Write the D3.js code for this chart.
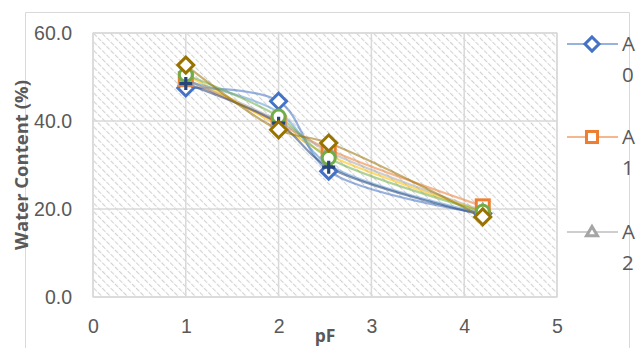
<!DOCTYPE html>
<html>
<head>
<meta charset="utf-8">
<script src="https://cdn.jsdelivr.net/npm/d3@7"></script>
<style>
  html, body { margin: 0; padding: 0; background: #fff; }
  svg { display: block; font-family: "Open Sans", "Liberation Sans", sans-serif; }
</style>
</head>
<body>
<svg id="chart" width="636" height="348"></svg>
<script>
// pF points at which water content was measured
const pF = [1, 2, 2.54, 4.2];

// Series names (legend) and water content values (%)
const seriesNames = ["A\n0", "A\n1", "A\n2", "A\n3", "A\n4", "A\n5", "A\n6", "A\n7"];
const s0 = [47.5, 44.5, 28.6, 19.0];
const s1 = [49.5, 39.5, 33.5, 20.6];
const s2 = [49.3, 40.0, 33.0, 19.6];
const s3 = [50.5, 39.0, 32.2, 19.4];
const s4 = [49.0, 42.0, 30.0, 19.0];
const s5 = [50.5, 41.0, 31.6, 19.4];
const s6 = [48.5, 39.5, 29.5, 18.6];
const s7 = [52.7, 38.0, 35.0, 18.2];
const seriesValues = [s0, s1, s2, s3, s4, s5, s6, s7];
const seriesColors = ["#4472C4", "#ED7D31", "#A5A5A5", "#FFC000", "#5B9BD5", "#70AD47", "#264478", "#997300"];
const seriesMarkers = ["diamond", "square", "triangle", "none", "none", "circle", "plus", "diamond"];

const xTicks = [0, 1, 2, 3, 4, 5];
const yTicks = [0, 20, 40, 60];

const svg = d3.select("#chart");
const W = 636, H = 348;
const plot = { left: 93, right: 557, top: 33, bottom: 297 };
const textGrey = "#595959";
const gridGrey = "#d9d9d9";

// chart frame
svg.append("path")
  .attr("d", `M25.5,${H} V12.5 H629.5 V${H}`)
  .attr("fill", "none").attr("stroke", gridGrey).attr("stroke-width", 1);

const x = d3.scaleLinear().domain([0, 5]).range([plot.left, plot.right]);
const y = d3.scaleLinear().domain([0, 60]).range([plot.bottom, plot.top]);

// diagonal hatch fill of the plot area
const defs = svg.append("defs");
const pat = defs.append("pattern")
  .attr("id", "hatch").attr("patternUnits", "userSpaceOnUse")
  .attr("width", 6).attr("height", 6)
  .attr("patternTransform", "rotate(-45)");
pat.append("rect").attr("width", 6).attr("height", 6).attr("fill", "#fff");
pat.append("line").attr("x1", 0).attr("y1", 0).attr("x2", 0).attr("y2", 6)
  .attr("stroke", "#d2d2d2").attr("stroke-width", 2.2)
  .attr("stroke-dasharray", "4.5 1.5");

svg.append("rect")
  .attr("x", plot.left).attr("y", plot.top)
  .attr("width", plot.right - plot.left).attr("height", plot.bottom - plot.top)
  .attr("fill", "url(#hatch)").attr("stroke", gridGrey).attr("stroke-width", 1.2);

// gridlines
const grid = svg.append("g");
grid.selectAll(".gx").data(xTicks).join("line")
  .attr("x1", d => x(d)).attr("x2", d => x(d))
  .attr("y1", plot.top).attr("y2", plot.bottom)
  .attr("stroke", gridGrey).attr("stroke-width", 1.5);
grid.selectAll(".gy").data(yTicks).join("line")
  .attr("x1", plot.left).attr("x2", plot.right)
  .attr("y1", d => y(d)).attr("y2", d => y(d))
  .attr("stroke", gridGrey).attr("stroke-width", 1.5);

// axes
const yAxis = svg.append("g")
  .attr("transform", `translate(${plot.left - 21},0)`)
  .call(d3.axisLeft(y).tickValues(yTicks).tickFormat(d3.format(".1f")).tickSize(0).tickPadding(0));
yAxis.select(".domain").remove();
yAxis.selectAll("text").attr("fill", textGrey).style("font-size", "19.5px").attr("dy", "0.35em");

const xAxis = svg.append("g")
  .attr("transform", `translate(0,${plot.bottom + 22})`)
  .call(d3.axisBottom(x).tickValues(xTicks).tickFormat(d3.format("d")).tickSize(0).tickPadding(0));
xAxis.select(".domain").remove();
xAxis.selectAll("text").attr("fill", textGrey).style("font-size", "19.5px").attr("dy", "0.71em");

// axis titles
svg.append("text")
  .attr("transform", `translate(28,${(plot.top + plot.bottom) / 2}) rotate(-90)`)
  .attr("text-anchor", "middle").attr("fill", textGrey)
  .style("font-size", "18.5px").style("font-weight", "bold")
  .text("Water Content (%)");
svg.append("text")
  .attr("x", (plot.left + plot.right) / 2).attr("y", 342)
  .attr("text-anchor", "middle").attr("fill", textGrey)
  .style("font-size", "17.5px").style("font-weight", "bold")
  .text("pF");

// marker drawing helper
function drawMarker(g, type, color, cx, cy, scale = 1) {
  const s = 6.5 * scale;
  if (type === "diamond") {
    g.append("path").attr("d", `M${cx},${cy - s - 1.5} L${cx + s + 1.5},${cy} L${cx},${cy + s + 1.5} L${cx - s - 1.5},${cy} Z`)
      .attr("fill", "#fff").attr("stroke", color).attr("stroke-width", 3);
  } else if (type === "square") {
    g.append("rect").attr("x", cx - s).attr("y", cy - s).attr("width", 2 * s).attr("height", 2 * s)
      .attr("fill", "#fff").attr("stroke", color).attr("stroke-width", 3);
  } else if (type === "triangle") {
    g.append("path").attr("d", `M${cx},${cy - s} L${cx + s},${cy + s * 0.7} L${cx - s},${cy + s * 0.7} Z`)
      .attr("fill", "#fff").attr("stroke", color).attr("stroke-width", 3);
  } else if (type === "circle") {
    g.append("circle").attr("cx", cx).attr("cy", cy).attr("r", s)
      .attr("fill", "#fff").attr("stroke", color).attr("stroke-width", 3);
  } else if (type === "plus") {
    g.append("path").attr("d", `M${cx - s},${cy} H${cx + s} M${cx},${cy - s} V${cy + s}`)
      .attr("fill", "none").attr("stroke", color).attr("stroke-width", 3.2);
  }
}

// smoothed series lines
const line = d3.line().x((d, i) => x(pF[i])).y(d => y(d)).curve(d3.curveCatmullRom.alpha(0.5));
const linesG = svg.append("g");
seriesValues.forEach((vals, k) => {
  linesG.append("path").attr("d", line(vals))
    .attr("fill", "none").attr("stroke", seriesColors[k])
    .attr("stroke-width", 2.2).attr("stroke-opacity", 0.55);
});

// markers
const markG = svg.append("g");
seriesValues.forEach((vals, k) => {
  vals.forEach((v, i) => drawMarker(markG, seriesMarkers[k], seriesColors[k], x(pF[i]), y(v)));
});

// legend (right side, only the first entries fit in the frame)
const legend = svg.append("g");
const legendY = [44, 137, 232];
legendY.forEach((ly, k) => {
  legend.append("line").attr("x1", 567).attr("x2", 618).attr("y1", ly).attr("y2", ly)
    .attr("stroke", seriesColors[k]).attr("stroke-width", 2.2).attr("stroke-opacity", 0.55);
  drawMarker(legend, seriesMarkers[k], seriesColors[k], 592, ly, 0.85);
  const t = legend.append("text").attr("x", 622).attr("y", ly + 7).attr("fill", textGrey).style("font-size", "20.5px");
  seriesNames[k].split("\n").forEach((part, j) => {
    t.append("tspan").attr("x", 622).attr("dy", j === 0 ? 0 : 31).text(part);
  });
});
</script>
</body>
</html>
